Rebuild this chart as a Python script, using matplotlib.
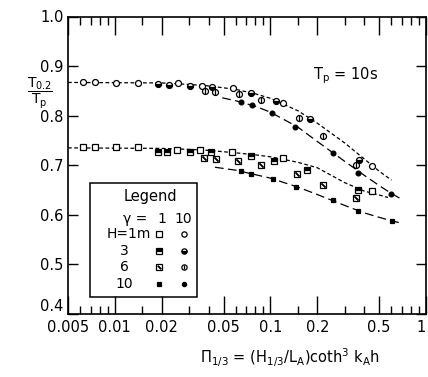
#
# Relative period T0.2/Tp against the Ursell-like parameter, Tp = 10 s
#

import matplotlib
matplotlib.use("Agg")
import matplotlib.pyplot as plt
from matplotlib.patches import Rectangle
from matplotlib.ticker import FixedLocator, FixedFormatter, NullFormatter

plt.rcParams['mathtext.default'] = 'regular'
plt.rcParams['font.family'] = 'DejaVu Sans'

# ---- gamma = 10 (circles) ----
c_h1_x = [0.00622, 0.00742, 0.0102, 0.0140, 0.0256, 0.0361, 0.0572, 0.121, 0.448]
c_h1_y = [0.867, 0.867, 0.866, 0.866, 0.865, 0.860, 0.856, 0.826, 0.699]
c_h3_x = [0.0189, 0.0222, 0.0304, 0.0419, 0.0746, 0.109, 0.180, 0.372]
c_h3_y = [0.863, 0.861, 0.859, 0.858, 0.845, 0.829, 0.793, 0.711]
c_h6_x = [0.038, 0.044, 0.0624, 0.0865, 0.153, 0.219, 0.353]
c_h6_y = [0.849, 0.847, 0.843, 0.831, 0.795, 0.760, 0.700]
c_h10_x = [0.0644, 0.0759, 0.103, 0.144, 0.254, 0.367, 0.596]
c_h10_y = [0.828, 0.821, 0.806, 0.778, 0.725, 0.684, 0.642]

# ---- gamma = 1 (squares) ----
s_h1_x = [0.00622, 0.00742, 0.0102, 0.0140, 0.0250, 0.0352, 0.0566, 0.121, 0.448]
s_h1_y = [0.736, 0.736, 0.736, 0.736, 0.731, 0.731, 0.727, 0.714, 0.648]
s_h3_x = [0.0189, 0.0217, 0.0304, 0.0416, 0.0746, 0.105, 0.172, 0.367]
s_h3_y = [0.727, 0.727, 0.727, 0.726, 0.719, 0.709, 0.691, 0.650]
s_h6_x = [0.0374, 0.0444, 0.0616, 0.0865, 0.149, 0.219, 0.355]
s_h6_y = [0.714, 0.712, 0.708, 0.701, 0.683, 0.661, 0.633]
s_h10_x = [0.0644, 0.0753, 0.104, 0.145, 0.254, 0.367, 0.601]
s_h10_y = [0.688, 0.683, 0.673, 0.657, 0.629, 0.608, 0.588]

# ---- fitted curves ----
fit_c_short_x = [0.005, 0.02, 0.03, 0.04, 0.06, 0.08, 0.1, 0.15, 0.2, 0.3, 0.4, 0.5, 0.6]
fit_c_short_y = [0.867, 0.866, 0.863, 0.860, 0.853, 0.844, 0.835, 0.810, 0.785, 0.745, 0.713, 0.688, 0.670]
fit_c_long_x = [0.049, 0.06, 0.08, 0.1, 0.15, 0.2, 0.3, 0.4, 0.5, 0.6, 0.71]
fit_c_long_y = [0.836, 0.830, 0.819, 0.807, 0.777, 0.748, 0.708, 0.680, 0.659, 0.643, 0.630]
fit_s_short_x = [0.005, 0.02, 0.03, 0.04, 0.06, 0.08, 0.1, 0.15, 0.2, 0.3, 0.4, 0.5, 0.57]
fit_s_short_y = [0.735, 0.734, 0.732, 0.730, 0.725, 0.721, 0.717, 0.706, 0.695, 0.665, 0.648, 0.640, 0.635]
fit_s_long_x = [0.044, 0.06, 0.08, 0.1, 0.15, 0.2, 0.3, 0.4, 0.5, 0.6, 0.7]
fit_s_long_y = [0.696, 0.690, 0.681, 0.674, 0.656, 0.641, 0.619, 0.604, 0.595, 0.588, 0.583]

x_major = [0.005, 0.01, 0.02, 0.05, 0.1, 0.2, 0.5, 1.0]
x_major_labels = ['0.005', '0.01', '0.02', '0.05', '0.1', '0.2', '0.5', '1']
x_minor = [0.006, 0.007, 0.008, 0.009, 0.015, 0.03, 0.04, 0.06, 0.07, 0.08, 0.09,
           0.15, 0.3, 0.4, 0.6, 0.7, 0.8, 0.9]
y_major = [0.4, 0.5, 0.6, 0.7, 0.8, 0.9, 1.0]
y_major_labels = ['0.4', '0.5', '0.6', '0.7', '0.8', '0.9', '1.0']


def draw_marks(ax, x, y, kind, shape, transform=None, ms=4.3):
    kw = dict(linestyle='None', color='black', mew=0.9, zorder=5)
    if transform is not None:
        kw['transform'] = transform
    if kind == 1:
        ax.plot(x, y, marker=shape, ms=ms, mfc='white', mec='black', **kw)
    elif kind == 3:
        ax.plot(x, y, marker=shape, ms=ms, fillstyle='bottom' if shape == 'o' else 'top',
                mfc='black', mfcalt='white', mec='black', **kw)
    elif kind == 6:
        ax.plot(x, y, marker=shape, ms=ms, mfc='white', mec='black', **kw)
        inner = '|' if shape == 'o' else (2, 2, 45)
        ax.plot(x, y, marker=inner, ms=ms * 0.9, mec='black', **kw)
    else:
        ax.plot(x, y, marker=shape, ms=ms * 0.8, mfc='black', mec='black', **kw)


fig = plt.figure(figsize=(4.28, 3.77), dpi=100)
ax = fig.add_axes([68 / 428, 1 - 314 / 377, 358 / 428, 297.5 / 377])

# curves
ax.plot(fit_c_short_x, fit_c_short_y, color='black', lw=0.9, dashes=(3, 2))
ax.plot(fit_s_short_x, fit_s_short_y, color='black', lw=0.9, dashes=(3, 2))
ax.plot(fit_c_long_x, fit_c_long_y, color='black', lw=0.9, dashes=(7, 3.5))
ax.plot(fit_s_long_x, fit_s_long_y, color='black', lw=0.9, dashes=(7, 3.5))

# data points
draw_marks(ax, c_h1_x, c_h1_y, 1, 'o')
draw_marks(ax, c_h3_x, c_h3_y, 3, 'o')
draw_marks(ax, c_h6_x, c_h6_y, 6, 'o')
draw_marks(ax, c_h10_x, c_h10_y, 10, 'o')
draw_marks(ax, s_h1_x, s_h1_y, 1, 's')
draw_marks(ax, s_h3_x, s_h3_y, 3, 's')
draw_marks(ax, s_h6_x, s_h6_y, 6, 's')
draw_marks(ax, s_h10_x, s_h10_y, 10, 's')

ax.set_xscale('log')
ax.set_xlim(0.005, 1.0)
ax.set_ylim(0.4, 1.0)
ax.xaxis.set_major_locator(FixedLocator(x_major))
ax.xaxis.set_major_formatter(FixedFormatter(x_major_labels))
ax.xaxis.set_minor_locator(FixedLocator(x_minor))
ax.xaxis.set_minor_formatter(NullFormatter())
ax.yaxis.set_major_locator(FixedLocator(y_major))
ax.yaxis.set_major_formatter(FixedFormatter(y_major_labels))
ax.tick_params(which='both', direction='in', top=True, right=True, width=1.0,
               labelsize=10.5, colors='black')
ax.tick_params(axis='x', which='major', length=13, pad=4)
ax.tick_params(axis='x', which='minor', length=5.5)
ax.tick_params(axis='y', which='major', length=7, pad=3)
for sp in ax.spines.values():
    sp.set_linewidth(1.2)

# nudge the corner labels so they do not collide
fig.canvas.draw()
ax.get_yticklabels()[0].set_va('bottom')
ax.get_xticklabels()[-1].set_ha('right')

# legend box drawn by hand
tr = ax.transAxes
ax.add_patch(Rectangle((0.0615, 0.057), 0.30, 0.383, transform=tr, fill=False,
                       edgecolor='black', lw=1.1, zorder=4))
ax.text(0.229, 0.394, 'Legend', transform=tr, ha='center', va='center', fontsize=10.5)
ax.text(0.222, 0.319, '\u03b3 =', transform=tr, ha='right', va='center', fontsize=10)
ax.text(0.262, 0.319, '1', transform=tr, ha='center', va='center', fontsize=10)
ax.text(0.322, 0.319, '10', transform=tr, ha='center', va='center', fontsize=10)
ax.text(0.108, 0.269, 'H=1m', transform=tr, ha='left', va='center', fontsize=10)
for lab, yy in zip(['3', '6', '10'], [0.213, 0.157, 0.100]):
    ax.text(0.158, yy, lab, transform=tr, ha='center', va='center', fontsize=10)
for kind, yy in zip([1, 3, 6, 10], [0.269, 0.213, 0.157, 0.100]):
    draw_marks(ax, [0.255], [yy], kind, 's', transform=tr, ms=3.8)
    draw_marks(ax, [0.324], [yy], kind, 'o', transform=tr, ms=3.8)

ax.text(0.775, 0.80, 'T$_p$ = 10s', transform=tr, ha='center', va='center', fontsize=10.5)

fig.text(40 / 428, 1 - 93 / 377, r'$\dfrac{T_{0.2}}{T_p}$', ha='center', va='center', fontsize=10)
fig.text(290 / 428, 1 - 358 / 377, r'$\Pi_{1/3}$ = (H$_{1/3}$/L$_A$)coth$^3$ k$_A$h',
         ha='center', va='center', fontsize=10.5)

plt.savefig('out.png', dpi=100)
